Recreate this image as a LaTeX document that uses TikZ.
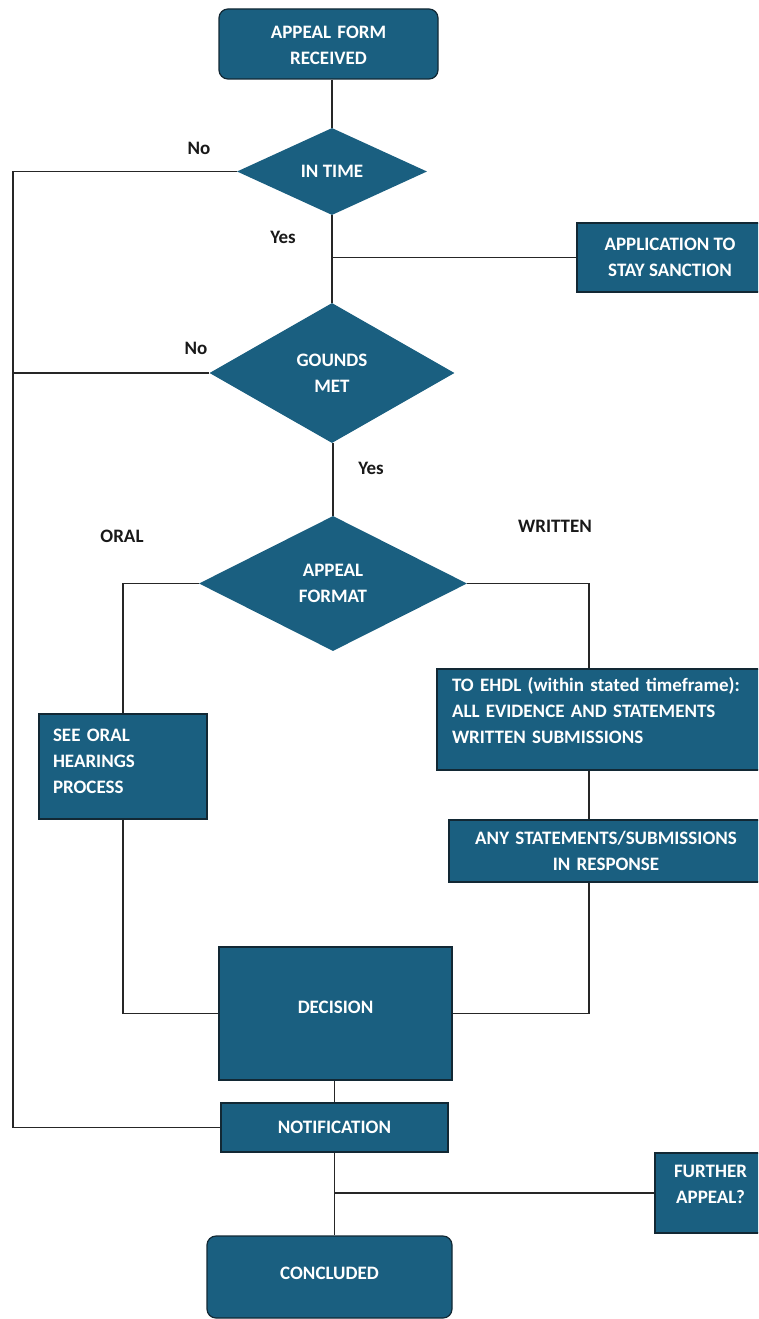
\documentclass[tikz,border=0pt]{standalone}
\usepackage{fontspec}
\setmainfont{Carlito}
\usepackage{xcolor}
\usetikzlibrary{positioning,shapes.geometric,calc}

\definecolor{boxblue}{RGB}{26,95,128}
\definecolor{boxedge}{RGB}{18,40,52}

\begin{document}
\begin{tikzpicture}[x=1pt, y=-1pt,
    every node/.style={font=\fontsize{19}{26}\selectfont\bfseries, align=center},
    box/.style={draw=boxedge, line width=1.2pt, fill=boxblue, text=white, inner sep=0pt},
    endbox/.style={box, rounded corners=9pt},
    choice/.style={diamond, fill=boxblue, text=white, inner sep=0pt},
    link/.style={draw=black!85, line width=1.3pt},
    tag/.style={text=black!90}]
  \clip (0,0) rectangle (758,1319);

  % main column
  \node[endbox, minimum width=219, minimum height=70, text width=200,
        text height=14, text depth=24.5] (received) at (328.5,44)
        {APPEAL FORM\\RECEIVED};
  \node[choice, minimum width=190, minimum height=87] (intime) at (332,171.5)
        {IN TIME};
  \node[box, minimum width=186, minimum height=69] (stay) at (670,257.5)
        {APPLICATION TO\\STAY SANCTION};
  \node[choice, minimum width=245, minimum height=140] (grounds) at (332,373)
        {GOUNDS\\MET};
  \node[choice, minimum width=268, minimum height=135] (format) at (333,583.5)
        {APPEAL\\FORMAT};

  % the two routes
  \node[box, minimum width=168, minimum height=105, text width=140, align=left,
        text height=14, text depth=64.5] (oral) at (123,766.5)
        {SEE ORAL\\HEARINGS\\PROCESS};
  \node[box, minimum width=333, minimum height=101, text width=303, align=left,
        text height=14, text depth=70.5] (ehdl) at (603.5,719.5)
        {TO EHDL (within stated timeframe):\\ALL EVIDENCE AND STATEMENTS\\WRITTEN SUBMISSIONS};
  \node[box, minimum width=314, minimum height=62, text width=300,
        text height=14, text depth=26.5] (resp) at (606,851)
        {ANY STATEMENTS/SUBMISSIONS\\IN RESPONSE};

  \node[box, minimum width=233, minimum height=133, text height=12, text depth=12]
        (decision) at (335.5,1013.5) {DECISION};
  \node[box, minimum width=227, minimum height=49] (notif) at (334.5,1127.5)
        {NOTIFICATION};
  \node[box, minimum width=111, minimum height=80, text width=100,
        text height=14, text depth=44.5] (further) at (710.5,1193)
        {FURTHER\\APPEAL?};
  \node[endbox, minimum width=245, minimum height=82, text height=12, text depth=6.5]
        (concluded) at (329.5,1277) {CONCLUDED};

  % branch labels
  \node[tag] (nolate) at (199,148) {No};
  \node[tag] (yestime) at (283,237) {Yes};
  \node[tag] (nomet) at (196,348) {No};
  \node[tag] (yesmet) at (371,468) {Yes};
  \node[tag] (oraltag) at (122,536) {ORAL};
  \node[tag] (writtag) at (555,526) {WRITTEN};

  \coordinate (rail) at (13,0);
  \coordinate (wline) at (589,0);

  \draw[link] (intime.north |- received.south) -- (intime.north);
  \draw[link] (intime.south) -- (grounds.north);
  \draw[link] (stay.west) -- (stay.west -| intime.south);
  \draw[link] (intime.west) -- (intime.west -| rail) |- (notif.west);
  \draw[link] (grounds.west) -- (grounds.west -| rail);
  \draw[link] (format.north |- grounds.south) -- (format.north);
  \draw[link] (format.west) -| (oral.north);
  \draw[link] (format.east) -| (wline |- ehdl.north);
  \draw[link] (wline |- ehdl.south) -- (wline |- resp.north);
  \draw[link] (wline |- resp.south) |- (decision.east);
  \draw[link] (oral.south) |- (decision.west);
  \draw[link] (notif.north |- decision.south) -- (notif.north);
  \draw[link] (notif.south) -- (notif.south |- concluded.north);
  \draw[link] (further.west) -- (further.west -| notif.south);
\end{tikzpicture}
\end{document}
